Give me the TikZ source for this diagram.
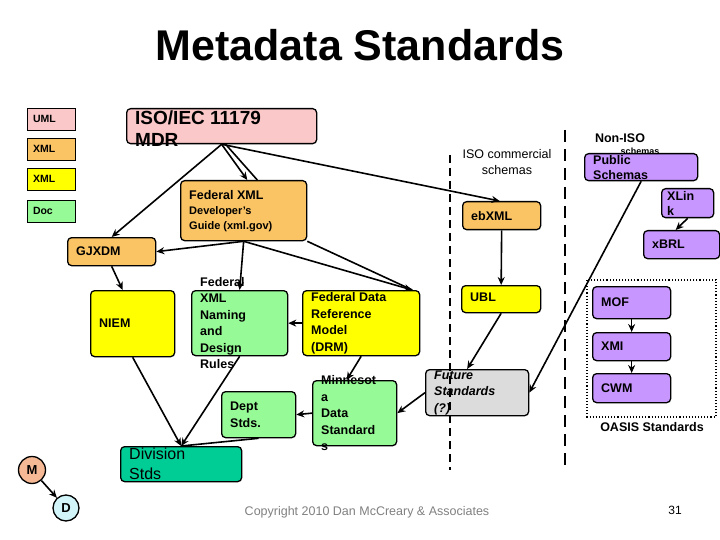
\documentclass[tikz,border=0pt]{standalone}
\usepackage{fontspec}
\setmainfont{Liberation Sans}
\usetikzlibrary{arrows.meta,positioning}
\definecolor{umlpink}{RGB}{250,200,200}
\definecolor{xmlorange}{RGB}{250,195,100}
\definecolor{xmlyellow}{RGB}{255,255,0}
\definecolor{docgreen}{RGB}{150,250,150}
\definecolor{divteal}{RGB}{0,204,150}
\definecolor{oasispurple}{RGB}{200,150,255}
\definecolor{futgray}{RGB}{220,220,220}
\definecolor{mcirc}{RGB}{245,185,150}
\definecolor{dcirc}{RGB}{210,245,250}
\newcommand{\smtxt}{\fontsize{11}{14}\selectfont}
\tikzset{
  box/.style={draw, line width=1.3pt, rounded corners=4pt, anchor=north west, inner sep=0pt},
  txt/.style={anchor=west, xshift=9pt, align=left, inner sep=0pt, font=\bfseries\fontsize{12.5}{16.5}\selectfont},
  leg/.style={draw, line width=0.6pt, font=\bfseries\fontsize{10.5}{12}\selectfont, minimum width=48pt, minimum height=22pt, text width=36pt, align=left, inner xsep=6pt},
  arr/.style={-{Stealth[length=8pt,width=7pt]}, line width=1.6pt},
}
\begin{document}
\begin{tikzpicture}[x=1pt, y=-1pt]
\useasboundingbox (0,0) rectangle (720,540);
% タイトル
\node[font=\bfseries\fontsize{43}{45}\selectfont] (title) at (360,45) {Metadata Standards};

% 凡例
\node[leg, fill=umlpink]   (lguml) at (51,119) {UML};
\node[leg, fill=xmlorange] (lgxml) at (51,149) {XML};
\node[leg, fill=xmlyellow] (lgyel) at (51,179) {XML};
\node[leg, fill=docgreen]  (lgdoc) at (51,211) {Doc};

% ボックス
\node[box, fill=umlpink,     minimum width=190pt, minimum height=35pt] (mdr)    at (126,108) {};
\node[box, fill=xmlorange,   minimum width=126pt, minimum height=60pt] (fedxml) at (180,180) {};
\node[box, fill=xmlorange,   minimum width=88pt,  minimum height=28pt] (gjxdm)  at (67,237)  {};
\node[box, fill=xmlorange,   minimum width=78pt,  minimum height=28pt] (ebxml)  at (462,201) {};
\node[box, fill=xmlyellow,   minimum width=84pt,  minimum height=66pt] (niem)   at (90,290)  {};
\node[box, fill=docgreen,    minimum width=96pt,  minimum height=65pt] (ndr)    at (191,290) {};
\node[box, fill=xmlyellow,   minimum width=117pt, minimum height=65pt] (drm)    at (302,290) {};
\node[box, fill=xmlyellow,   minimum width=79pt,  minimum height=27pt] (ubl)    at (461,285) {};
\node[box, fill=docgreen,    minimum width=84pt,  minimum height=65pt] (minn)   at (312,380) {};
\node[box, fill=docgreen,    minimum width=74pt,  minimum height=46pt] (dept)   at (221,391) {};
\node[box, fill=futgray,     minimum width=103pt, minimum height=46pt] (future) at (425,369) {};
\node[box, fill=divteal,     minimum width=121pt, minimum height=35pt] (div)    at (120,446) {};
\node[box, fill=oasispurple, minimum width=113pt, minimum height=27pt] (pubsch) at (584,153) {};
\node[box, fill=oasispurple, minimum width=52pt,  minimum height=29pt] (xlink)  at (661,188) {};
\node[box, fill=oasispurple, minimum width=76pt,  minimum height=28pt] (xbrl)   at (643,230) {};
\node[box, fill=oasispurple, minimum width=78pt,  minimum height=32pt] (mof)    at (592,286) {};
\node[box, fill=oasispurple, minimum width=78pt,  minimum height=28pt] (xmi)    at (592,332) {};
\node[box, fill=oasispurple, minimum width=78pt,  minimum height=29pt] (cwm)    at (592,373) {};
\node[draw, circle, fill=mcirc, line width=1.3pt, minimum size=27pt, inner sep=0pt, font=\bfseries\fontsize{13}{14}\selectfont] (m) at (32,470) {M};
\node[draw, circle, fill=dcirc, line width=1.3pt, minimum size=26pt, inner sep=0pt, font=\bfseries\fontsize{13}{14}\selectfont] (d) at (66,508) {D};

% ボックスの文字
\node[txt, font=\bfseries\fontsize{19}{22}\selectfont, yshift=-2pt] (mdr-t) at (mdr.west) {ISO/IEC 11179\\MDR};
\node[txt, font=\bfseries\fontsize{12.5}{15}\selectfont] (fedxml-t) at (fedxml.west) {Federal XML\\\smtxt Developer's\\\smtxt Guide (xml.gov)};
\node[txt] (gjxdm-t)  at (gjxdm.west)  {GJXDM};
\node[txt] (ebxml-t)  at (ebxml.west)  {ebXML};
\node[txt] (niem-t)   at (niem.west)   {NIEM};
\node[txt] (ndr-t)    at (ndr.west)    {Federal\\XML\\Naming\\and\\Design\\Rules};
\node[txt] (drm-t)    at (drm.west)    {Federal Data\\Reference\\Model\\(DRM)};
\node[txt, yshift=-12pt] (ubl-t) at (ubl.north west) {UBL};
\node[txt] (minn-t)   at (minn.west)   {Minnesot\\a\\Data\\Standard\\s};
\node[txt] (dept-t)   at (dept.west)   {Dept\\Stds.};
\node[txt, font=\bfseries\itshape\fontsize{12.5}{16.5}\selectfont] (future-t) at (future.west) {Future\\Standards\\(?)};
\node[txt, font=\fontsize{16}{20}\selectfont] (div-t) at (div.west) {Division\\Stds};
\node[txt, font=\bfseries\fontsize{12.5}{15}\selectfont] (pubsch-t) at (pubsch.west) {Public\\Schemas};
\node[txt, font=\bfseries\fontsize{12.5}{15}\selectfont, xshift=-3pt] (xlink-t) at (xlink.west) {XLin\\k};
\node[txt] (xbrl-t)   at (xbrl.west)   {xBRL};
\node[txt] (mof-t)    at (mof.west)    {MOF};
\node[txt] (xmi-t)    at (xmi.west)    {XMI};
\node[txt] (cwm-t)    at (cwm.west)    {CWM};

% 区切り線・注記
\coordinate (isotop) at (450,155);
\coordinate (isobot) at (450,470);
\coordinate (nontop) at (565,130);
\coordinate (nonbot) at (565,470);
\draw[line width=1.2pt, dash pattern=on 8pt off 5pt] (isotop) -- (isobot);
\draw[line width=2.6pt, dash pattern=on 12pt off 7pt] (nontop) -- (nonbot);
\coordinate (oasisnw) at (587,280);
\coordinate (oasisse) at (716,417);
\draw[dotted, line width=1.1pt] (oasisnw) rectangle (oasisse);
\node[font=\fontsize{12.5}{16}\selectfont, align=center] (isolbl) at (507,162) {ISO commercial\\schemas};
\node[font=\bfseries\fontsize{12.5}{14}\selectfont] (nonlbl) at (620,138) {Non-ISO};
\node[font=\bfseries\fontsize{9}{10}\selectfont] (schlbl) at (640,151) {schemas};
\node[font=\bfseries\fontsize{12.5}{14}\selectfont] (oasislbl) at (652,427) {OASIS Standards};
\node[font=\fontsize{12.5}{14}\selectfont, text=gray] (copy) at (367,512) {Copyright 2010 Dan McCreary \& Associates};
\node[font=\fontsize{12}{14}\selectfont] (page) at (675,510) {31};

% 矢印
\draw[arr] (mdr.south) -- (gjxdm.north);
\draw[arr] (mdr.south) -- ([xshift=-60pt]fedxml.north east);
\draw[line width=1.6pt] ([xshift=4pt]mdr.south) -- ([xshift=-50pt]fedxml.north east);
\draw[arr] (mdr.south) -- ([xshift=-2pt]ebxml.north);
\draw[arr] (fedxml.south) -- (gjxdm.east);
\draw[arr] (fedxml.south) -- (ndr.north);
\draw[arr] (fedxml.south) -- ([xshift=-8pt]drm.north east);
\draw[line width=1.6pt] (fedxml.south east) -- ([xshift=-8pt]drm.north east);
\draw[arr] (gjxdm.south) -- ([xshift=-10pt]niem.north);
\draw[arr] (drm.west) -- (ndr.east);
\draw[arr] (drm.south) -- ([xshift=-8pt]minn.north);
\draw[arr] (niem.south) -- (div.north);
\draw[arr] (ndr.south) -- (div.north);
\draw[line width=1.6pt] (dept.south) -- (div.north);
\draw[arr] (minn.west) -- (dept.east);
\draw[arr] (future.west) -- (minn.east);
\draw[arr] (ubl.south) -- ([xshift=-10pt]future.north);
\draw[arr] (ebxml.south) -- (ubl.north);
\draw[arr] (pubsch.south) -- (future.east);
\draw[arr] (xlink.south) -- ([xshift=-6pt]xbrl.north);
\draw[arr] (mof.south) -- (xmi.north);
\draw[arr] (xmi.south) -- (cwm.north);
\draw[arr] (m) -- (d);
\end{tikzpicture}
\end{document}
